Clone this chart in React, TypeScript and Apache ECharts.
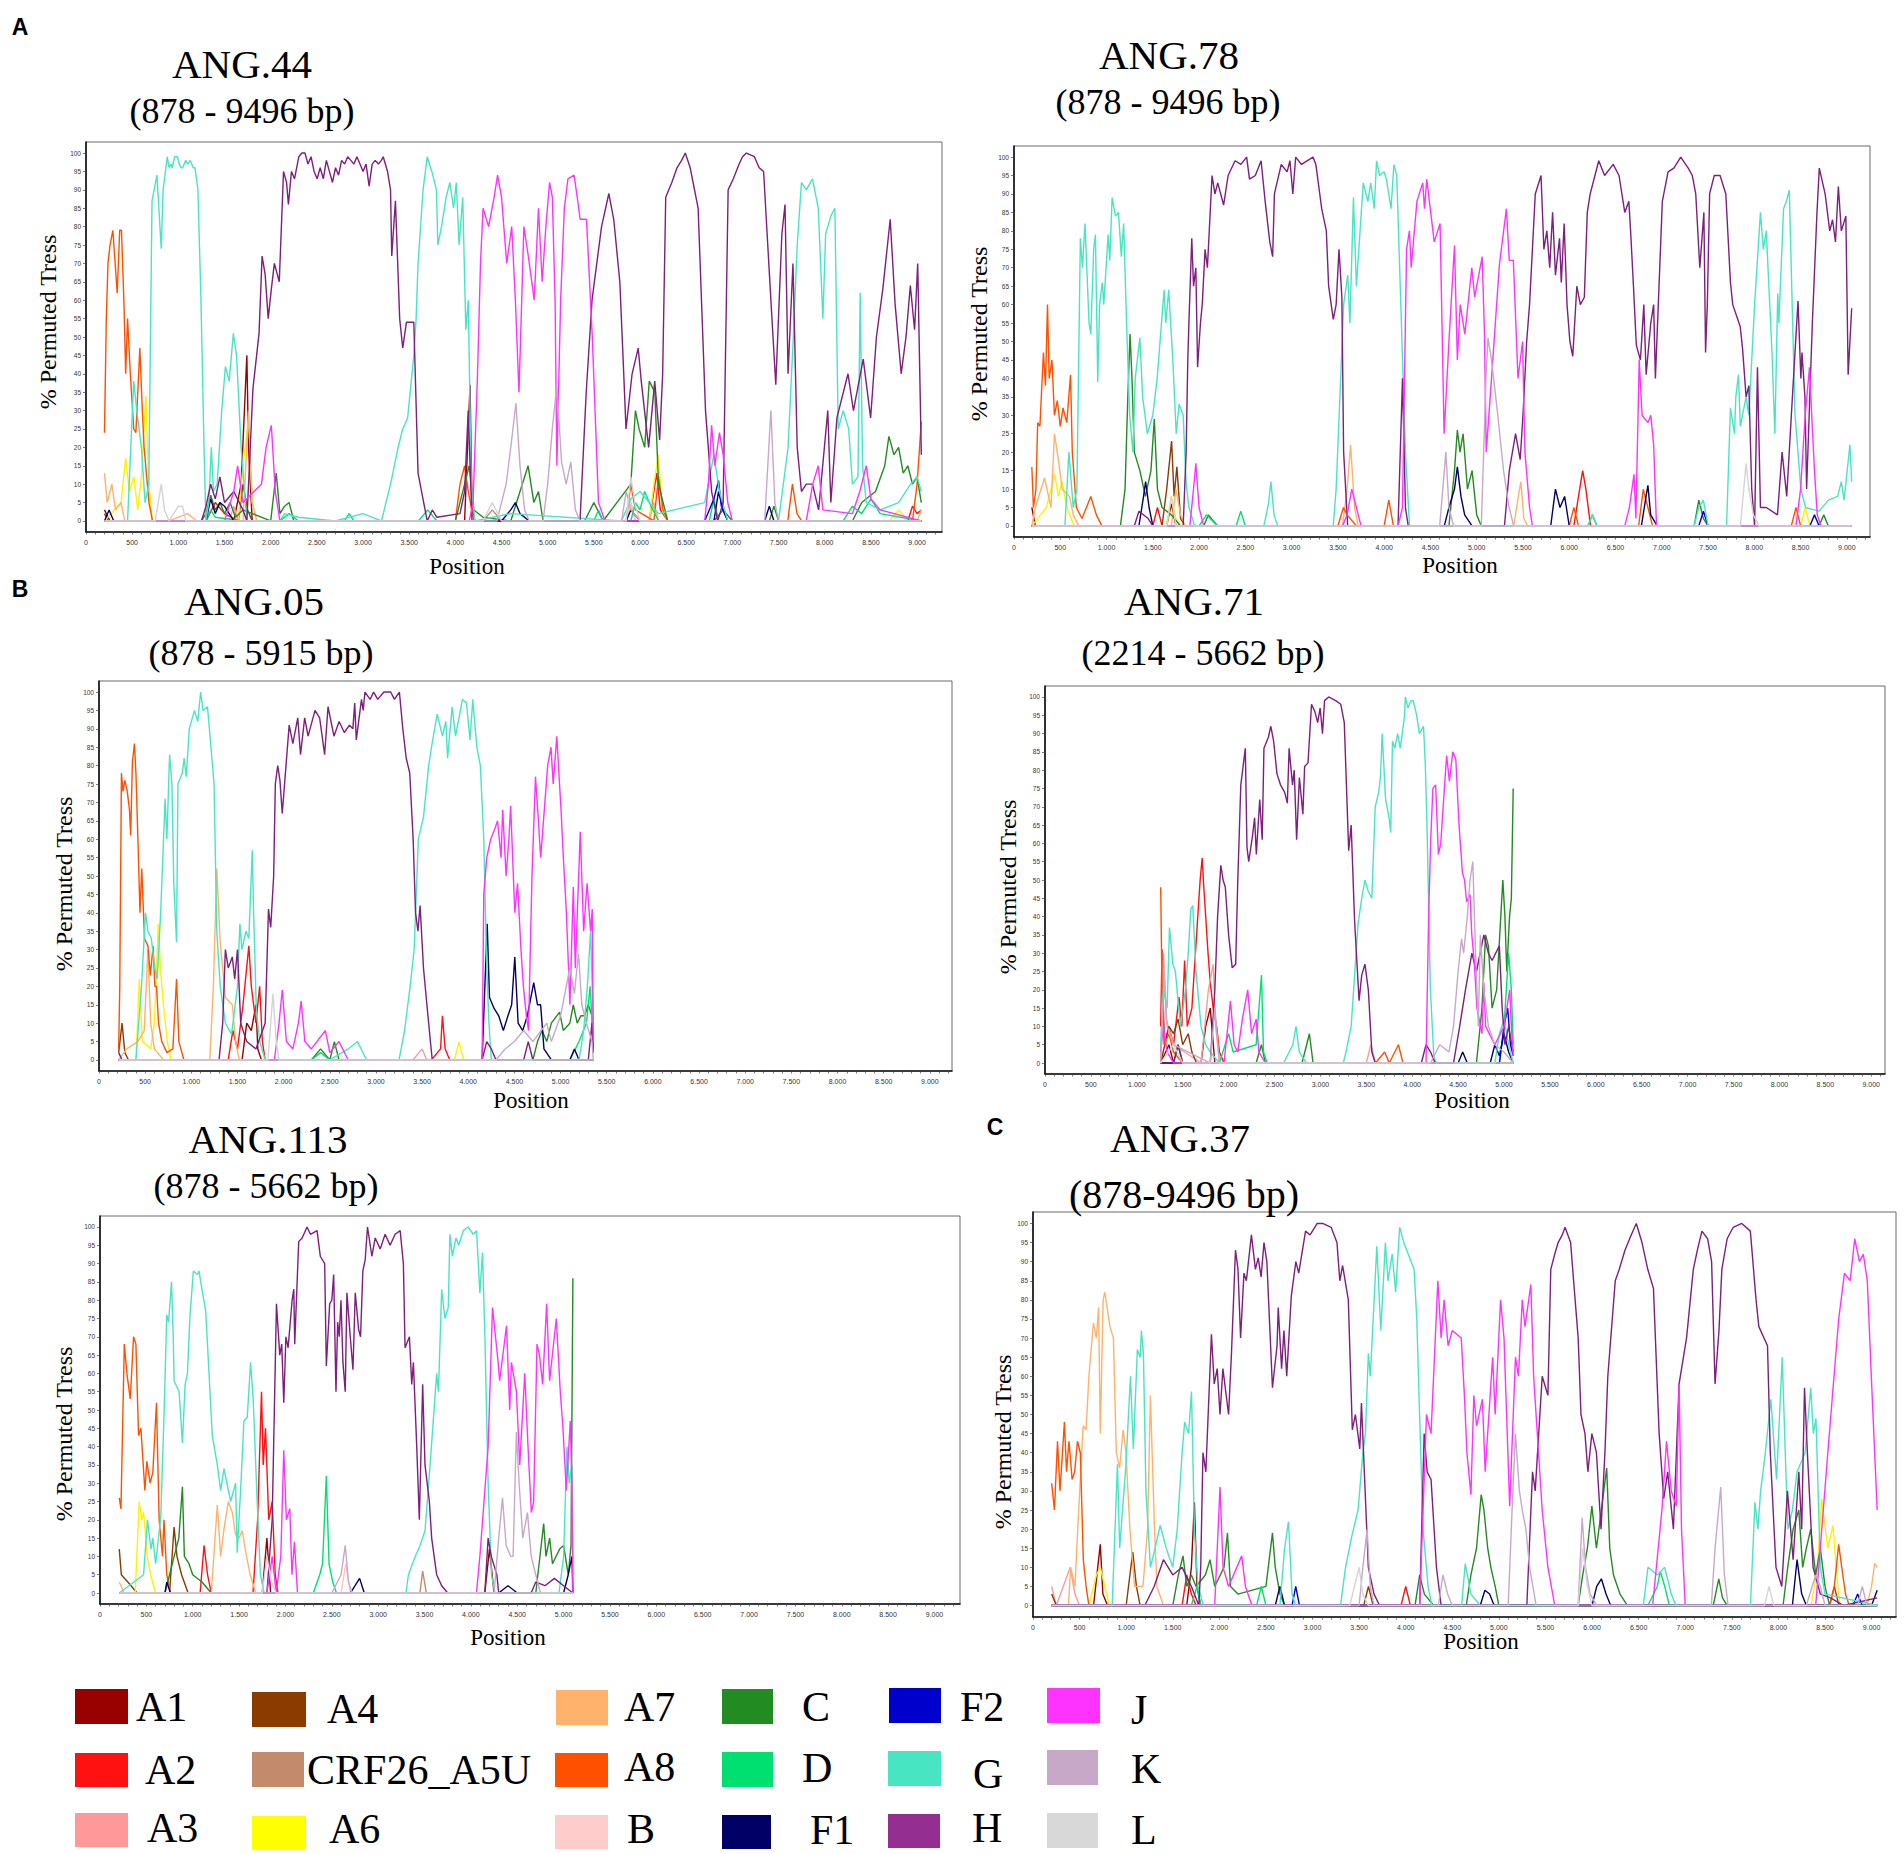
import React, { useEffect, useRef } from "react";
import * as echarts from "echarts";

// ---------- categories ----------
const SUBTYPES = ["A1","A2","A3","A4","CRF26_A5U","A6","A7","A8","B","C","D","F1","F2","G","H","J","K","L"];
const LINE_COLORS: Record<string, string> = {
  A1: "#990000", A2: "#FF1111", A3: "#FF9999", A4: "#8B3A00", CRF26_A5U: "#C48A6C", A6: "#FFF200",
  A7: "#FFB26B", A8: "#FF5000", B: "#FFC4C4", C: "#228B22", D: "#00E070", F1: "#000066", F2: "#0000CC",
  G: "#48E5C2", H: "#7E1E7E", J: "#FF33FF", K: "#C8A8C8", L: "#D4D4D4",
};
const SWATCH_COLORS: Record<string, string> = {
  ...LINE_COLORS, H: "#952E91", A6: "#FFFF00", B: "#FFCCCC", L: "#D8D8D8",
};
const X_TICKS = [0,500,1000,1500,2000,2500,3000,3500,4000,4500,5000,5500,6000,6500,7000,7500,8000,8500,9000];
const Y_TICKS = [0,5,10,15,20,25,30,35,40,45,50,55,60,65,70,75,80,85,90,95,100];
const PANEL_NAMES = ["ANG.44","ANG.78","ANG.05","ANG.71","ANG.113","ANG.37"];
const PANEL_RANGES = ["(878 - 9496 bp)","(878 - 9496 bp)","(878 - 5915 bp)","(2214 - 5662 bp)","(878 - 5662 bp)","(878-9496 bp)"];
const PANEL_LETTERS = ["A","B","C"];
const AXIS_Y_NAME = "% Permuted Tress";
const AXIS_X_NAME = "Position";

// ---------- ANG.44 ----------
const ANG44_A1 = [200,3, 260,0, 1600,0, 1680,10, 1742,45, 1760,20, 1800,0, 4100,0, 4159,37, 4180,5, 4210,0, 9046,0];
const ANG44_A2 = [200,0, 1300,0, 1400,5, 1500,2, 1650,0, 6100,0, 6180,13, 6220,3, 6300,0, 8900,0, 8950,4, 9000,2, 9046,3];
const ANG44_A3 = [200,0, 1550,0, 1600,4, 1650,0, 5850,0, 5900,5, 5950,0, 9046,0];
const ANG44_A4 = [200,2, 240,0, 1650,0, 1700,10, 1750,3, 1800,0, 9046,0];
const ANG44_CRF = [200,0, 4300,0, 4400,3, 4500,0, 9046,0];
const ANG44_A6 = [200,0, 380,5, 430,17, 470,8, 520,12, 560,3, 600,12, 649,34, 680,10, 720,0, 1650,0, 1700,15, 1762,28, 1800,5, 1850,0, 6100,0, 6150,10, 6199,18, 6240,3, 6300,0, 8700,0, 8800,3, 8900,0, 9046,0];
const ANG44_A7 = [200,13, 230,5, 280,10, 320,3, 380,5, 420,0, 900,0, 1100,2, 1200,0, 1700,0, 1740,20, 1760,30, 1800,5, 1850,0, 6100,0, 6150,5, 6200,0, 9000,0, 9046,3];
const ANG44_A8 = [200,24, 220,55, 238,70, 260,75, 291,79, 310,72, 338,62, 365,79, 384,79, 410,60, 430,40, 450,55, 480,40, 517,25, 540,24, 583,47, 610,30, 629,20, 682,5, 720,0, 4000,0, 4050,10, 4100,15, 4140,8, 4200,0, 5850,0, 5900,10, 5950,3, 6150,0, 6200,12, 6250,3, 6300,0, 7600,0, 7650,10, 7700,2, 7750,0, 8950,0, 9000,10, 9046,27];
const ANG44_B = [200,0, 5850,0, 5900,5, 5950,0, 9046,0];
const ANG44_C = [200,0, 1250,0, 1300,2, 1350,7, 1400,3, 1450,5, 1500,2, 1560,5, 1620,1, 1700,3, 2000,0, 2060,13, 2100,2, 2150,4, 2200,5, 2250,0, 4000,0, 4100,10, 4150,15, 4200,3, 4300,1, 4600,0, 4700,8, 4788,15, 4850,5, 4900,8, 4950,0, 5400,0, 5500,5, 5600,0, 5900,10, 5950,30, 5990,25, 6050,20, 6100,38, 6160,35, 6200,10, 6300,0, 6800,0, 6900,3, 7000,0, 7400,0, 7450,4, 7500,0, 8300,0, 8400,5, 8550,8, 8650,15, 8695,23, 8750,18, 8800,20, 8850,13, 8900,15, 8950,10, 9000,12, 9046,5];
const ANG44_D = [200,0, 1300,0, 1350,3, 1400,1, 1700,0, 2100,0, 2200,2, 2300,0, 2800,0, 2850,2, 2900,0, 3600,0, 3700,3, 3800,0, 5500,0, 5550,3, 5600,0, 5900,0, 5950,5, 6000,3, 6050,8, 6100,5, 6200,0, 6750,0, 6800,6, 6850,0, 8200,0, 8300,4, 8400,2, 8500,6, 8600,2, 9046,0];
const ANG44_F1 = [200,0, 250,3, 300,0, 1300,0, 1350,6, 1400,2, 1450,5, 1500,4, 1600,0, 4500,0, 4600,3, 4650,5, 4700,2, 4800,0, 5850,0, 5900,3, 6000,0, 6800,0, 6850,8, 6900,3, 6950,0, 7350,0, 7400,4, 7450,0, 9046,0];
const ANG44_F2 = [200,0, 6700,0, 6800,6, 6850,11, 6880,4, 6950,0, 9046,0];
const ANG44_G = [200,0, 450,0, 517,38, 550,30, 600,20, 640,5, 680,10, 715,87, 768,94, 815,74, 835,90, 880,99, 900,96, 920,97, 935,96, 960,99, 990,99, 1010,97, 1030,96, 1046,96, 1080,98, 1100,97, 1130,98, 1160,96, 1180,96, 1212,90, 1245,60, 1278,20, 1298,0, 1330,5, 1357,20, 1380,8, 1420,10, 1470,30, 1510,42, 1550,38, 1596,51, 1630,45, 1680,20, 1742,0, 2100,0, 2150,2, 2300,1, 2700,0, 3000,2, 3200,0, 3298,10, 3380,20, 3430,25, 3483,28, 3550,45, 3575,55, 3596,70, 3650,90, 3695,99, 3745,95, 3795,90, 3810,75, 3850,80, 3900,88, 3940,92, 3980,85, 4010,92, 4040,75, 4080,88, 4113,52, 4140,60, 4172,10, 4210,0, 4600,2, 5800,0, 5900,6, 6000,8, 6100,5, 6200,2, 6700,5, 6800,18, 6860,8, 6950,0, 7500,0, 7603,20, 7660,50, 7702,75, 7748,92, 7800,90, 7867,93, 7930,85, 7980,55, 8010,78, 8068,83, 8110,85, 8146,25, 8200,30, 8260,25, 8300,10, 8360,12, 8384,62, 8410,15, 8450,5, 8600,3, 8800,5, 8930,10, 9000,12, 9046,8];
const ANG44_H = [200,0, 1250,0, 1300,4, 1350,10, 1400,6, 1450,12, 1500,5, 1600,8, 1700,3, 1742,0, 1808,36, 1874,51, 1907,72, 1940,67, 1973,55, 2007,63, 2040,70, 2093,65, 2139,95, 2172,92, 2192,86, 2225,95, 2258,93, 2305,99, 2338,100, 2371,100, 2404,97, 2437,99, 2470,95, 2503,93, 2536,96, 2570,93, 2603,98, 2636,95, 2669,92, 2702,96, 2735,94, 2768,98, 2801,97, 2834,99, 2868,98, 2901,97, 2934,99, 2967,97, 3000,95, 3033,97, 3066,91, 3099,97, 3132,98, 3166,97, 3199,98, 3219,99, 3265,95, 3298,90, 3311,72, 3351,87, 3397,55, 3430,47, 3470,54, 3550,54, 3596,13, 3695,0, 3750,3, 3800,1, 4050,2, 4100,8, 4139,30, 4180,0, 5350,0, 5417,35, 5480,60, 5583,80, 5662,89, 5715,82, 5781,65, 5815,45, 5848,25, 5914,40, 5980,47, 6013,38, 6093,20, 6159,38, 6212,22, 6245,40, 6278,88, 6344,92, 6400,96, 6450,98, 6490,100, 6543,96, 6629,85, 6709,30, 6775,8, 6841,0, 6900,5, 6954,90, 7010,93, 7073,97, 7110,99, 7152,100, 7238,99, 7290,96, 7338,95, 7417,60, 7470,37, 7536,78, 7570,86, 7603,40, 7656,70, 7702,20, 7748,8, 7800,10, 7867,10, 7934,3, 8033,30, 8066,5, 8132,28, 8252,40, 8311,30, 8417,44, 8497,28, 8560,50, 8629,63, 8709,82, 8762,59, 8828,40, 8880,50, 8927,64, 8973,52, 9007,70, 9046,18];
const ANG44_J = [200,0, 1500,0, 1600,8, 1642,15, 1700,5, 1900,10, 1950,20, 2007,26, 2050,8, 2100,0, 4150,0, 4192,5, 4240,40, 4272,70, 4300,85, 4360,80, 4420,88, 4457,94, 4500,88, 4556,70, 4610,80, 4650,60, 4689,35, 4742,80, 4790,72, 4854,60, 4900,85, 4940,65, 4980,80, 5020,92, 5050,88, 5080,60, 5099,15, 5140,60, 5180,85, 5219,93, 5285,94, 5320,88, 5351,82, 5420,82, 5483,50, 5550,5, 5620,0, 6700,0, 6740,10, 6775,26, 6810,15, 6860,24, 6900,18, 6950,5, 7000,0, 7800,0, 7870,10, 7930,15, 7980,3, 8300,2, 8380,8, 8450,15, 8500,6, 8600,3, 9046,0];
const ANG44_K = [200,0, 4450,0, 4550,10, 4600,20, 4656,32, 4700,15, 4750,3, 4800,0, 4950,0, 5000,10, 5050,25, 5099,37, 5150,16, 5200,10, 5250,16, 5300,3, 5350,0, 5800,0, 5850,8, 5900,3, 6000,0, 7350,0, 7417,30, 7460,5, 7500,0, 9046,0];
const ANG44_L = [200,0, 750,0, 815,10, 850,3, 900,0, 1000,4, 1046,4, 1080,0, 4300,0, 4400,5, 4500,0, 5850,0, 5900,12, 5950,4, 6000,0, 9046,0];

// ---------- ANG.78 ----------
const ANG78_A1 = [193,5, 230,0, 1650,0, 1700,6, 1750,0, 9052,0];
const ANG78_A2 = [193,0, 1500,0, 1550,5, 1600,0, 6050,0, 6100,8, 6145,15, 6180,10, 6230,0, 9052,0];
const ANG78_A4 = [193,0, 1600,0, 1650,10, 1703,23, 1730,8, 1760,16, 1800,2, 1850,0, 9052,0];
const ANG78_A6 = [193,0, 350,5, 400,10, 440,14, 480,8, 520,12, 570,5, 650,0, 1650,0, 1700,8, 1750,2, 1800,0, 8500,0, 8550,5, 8600,0, 9052,0];
const ANG78_A7 = [193,0, 230,5, 330,13, 400,5, 437,25, 480,18, 520,10, 600,8, 640,3, 700,0, 1700,0, 1750,10, 1800,3, 1850,0, 3550,0, 3600,10, 3637,22, 3680,5, 3720,0, 5400,0, 5450,8, 5477,12, 5510,2, 5550,0, 9052,0];
const ANG78_A8 = [193,16, 210,5, 237,10, 256,28, 280,27, 318,47, 340,38, 362,60, 380,40, 410,45, 437,30, 468,34, 500,27, 530,32, 570,28, 611,41, 630,20, 674,5, 735,2, 830,8, 890,3, 950,0, 3500,0, 3560,5, 3600,3, 3700,0, 4000,0, 4050,7, 4100,0, 6000,0, 6050,5, 6100,0, 6750,0, 6800,10, 6850,5, 6900,0, 8400,0, 8450,5, 8500,0, 9052,0];
const ANG78_C = [193,0, 1150,0, 1200,10, 1230,35, 1254,52, 1275,40, 1300,20, 1360,15, 1420,8, 1480,15, 1516,29, 1550,10, 1600,5, 1700,3, 1800,0, 2050,0, 2100,3, 2200,0, 4700,0, 4760,15, 4791,26, 4820,20, 4853,25, 4900,10, 4950,15, 5000,3, 5050,0, 6200,0, 6250,3, 6300,0, 7350,0, 7400,7, 7450,2, 7500,0, 8700,0, 8750,3, 8800,0, 9052,0];
const ANG78_D = [193,0, 2000,0, 2080,3, 2200,0, 2400,0, 2450,4, 2500,0, 9052,0];
const ANG78_F1 = [193,0, 1350,0, 1400,8, 1422,12, 1460,5, 1500,0, 4650,0, 4700,5, 4760,10, 4791,16, 4830,8, 4870,3, 4950,0, 5800,0, 5851,10, 5900,5, 5950,8, 6000,0, 6780,0, 6830,8, 6850,11, 6880,3, 6950,0, 9052,0];
const ANG78_F2 = [193,0, 7400,0, 7450,4, 7500,0, 8600,0, 8650,3, 8700,0, 9052,0];
const ANG78_G = [193,0, 550,0, 593,20, 640,5, 680,10, 717,78, 740,70, 767,82, 811,55, 830,52, 861,75, 880,79, 905,39, 925,60, 954,66, 970,60, 1017,79, 1035,72, 1047,80, 1060,89, 1097,84, 1129,85, 1160,73, 1185,82, 1216,55, 1250,30, 1285,20, 1310,40, 1360,51, 1390,35, 1441,25, 1500,30, 1547,40, 1622,64, 1640,55, 1672,64, 1716,45, 1753,25, 1784,33, 1828,30, 1859,12, 1890,5, 1953,0, 2700,0, 2750,6, 2776,12, 2810,3, 2850,0, 3450,0, 3481,10, 3530,40, 3562,60, 3606,68, 3630,55, 3668,89, 3700,65, 3774,93, 3824,88, 3855,93, 3893,86, 3918,99, 3950,95, 3999,96, 4024,94, 4074,86, 4105,98, 4136,95, 4180,60, 4230,20, 4274,0, 6200,0, 6250,3, 6300,0, 7350,0, 7400,5, 7450,7, 7500,0, 7700,0, 7742,32, 7786,25, 7800,35, 7829,41, 7848,27, 7911,35, 7941,30, 8003,60, 8066,85, 8097,75, 8129,80, 8191,47, 8222,25, 8253,63, 8265,55, 8316,86, 8347,88, 8378,91, 8409,60, 8440,30, 8503,10, 8553,5, 8700,4, 8800,7, 8900,8, 8940,12, 8970,7, 9033,22, 9052,12];
const ANG78_H = [193,0, 1300,0, 1350,4, 1450,2, 1500,0, 1828,0, 1860,20, 1878,45, 1890,55, 1921,78, 1940,65, 1965,70, 1984,43, 2015,55, 2034,60, 2065,75, 2090,70, 2140,95, 2171,90, 2202,93, 2265,87, 2314,95, 2389,99, 2452,98, 2514,100, 2545,94, 2608,95, 2670,99, 2714,88, 2764,77, 2795,73, 2814,90, 2888,98, 2951,96, 2982,99, 3013,90, 3044,100, 3107,98, 3231,100, 3262,98, 3325,86, 3375,80, 3400,65, 3450,56, 3481,60, 3512,75, 3543,62, 3562,20, 3606,0, 4150,0, 4198,40, 4230,5, 4260,0, 5300,0, 5352,15, 5420,25, 5470,18, 5500,30, 5540,50, 5571,60, 5633,90, 5695,95, 5726,75, 5758,80, 5789,70, 5820,85, 5851,68, 5895,78, 5914,66, 5945,82, 5976,60, 6007,50, 6038,46, 6082,65, 6120,60, 6163,62, 6195,85, 6226,90, 6319,99, 6382,95, 6475,98, 6538,95, 6600,85, 6644,88, 6663,80, 6694,65, 6725,49, 6769,45, 6806,60, 6831,41, 6881,55, 6912,60, 6931,40, 7006,88, 7068,96, 7130,97, 7205,100, 7286,97, 7330,95, 7367,90, 7411,70, 7455,85, 7473,47, 7492,60, 7517,90, 7567,95, 7630,95, 7692,90, 7742,66, 7767,60, 7848,54, 7873,48, 7911,35, 7941,38, 7972,10, 8003,0, 8034,43, 8066,5, 8129,5, 8250,3, 8300,20, 8350,8, 8400,30, 8472,61, 8503,40, 8515,47, 8547,35, 8565,10, 8627,55, 8677,85, 8702,97, 8765,90, 8815,80, 8845,83, 8877,77, 8908,92, 8940,80, 8989,84, 9014,41, 9052,59];
const ANG78_J = [193,0, 1900,0, 1940,10, 1965,17, 2000,5, 2050,0, 3550,0, 3600,3, 3650,10, 3700,5, 3750,0, 4150,0, 4198,5, 4242,75, 4273,80, 4292,70, 4354,88, 4417,93, 4436,86, 4460,94, 4498,86, 4541,77, 4604,82, 4648,25, 4700,50, 4760,76, 4791,45, 4822,60, 4872,52, 4947,70, 4978,62, 5059,73, 5084,52, 5103,20, 5160,40, 5246,71, 5321,86, 5352,72, 5396,72, 5446,40, 5496,50, 5508,35, 5521,20, 5571,5, 5602,0, 6600,0, 6650,5, 6700,14, 6720,2, 6756,45, 6787,30, 6850,28, 6881,30, 6912,22, 6943,0, 8450,0, 8500,10, 8550,30, 8596,43, 8620,30, 8650,15, 8680,3, 8720,0, 9052,0];
const ANG78_K = [193,0, 4600,0, 4667,20, 4700,5, 4750,0, 5050,0, 5100,40, 5122,51, 5160,45, 5228,30, 5290,15, 5350,5, 5400,0, 9052,0];
const ANG78_L = [193,0, 1650,0, 1700,8, 1750,0, 7850,0, 7911,17, 7941,10, 7990,3, 8050,0, 9052,0];

// ---------- ANG.05 ----------
const ANG05_A1 = [213,0, 1550,0, 1600,10, 1650,8, 1700,15, 1720,3, 1760,0, 5354,0];
const ANG05_A2 = [213,0, 1400,0, 1450,8, 1500,3, 1560,15, 1623,31, 1650,20, 1700,10, 1740,20, 1770,5, 1800,0, 3600,0, 3700,3, 3720,12, 3750,3, 3800,0, 5354,0];
const ANG05_A3 = [213,0, 3400,0, 3500,3, 3550,0, 5354,0];
const ANG05_A4 = [213,2, 250,10, 280,2, 320,0, 5354,0];
const ANG05_A6 = [213,0, 400,0, 437,22, 470,5, 560,3, 600,10, 642,37, 668,24, 698,15, 740,5, 780,0, 3850,0, 3900,5, 3950,0, 5354,0];
const ANG05_A7 = [213,0, 300,3, 420,5, 490,8, 530,30, 560,10, 600,3, 700,0, 1200,0, 1239,20, 1276,52, 1313,32, 1369,17, 1444,15, 1480,5, 1520,0, 5354,0];
const ANG05_A8 = [213,3, 225,20, 243,78, 260,73, 280,76, 306,73, 330,68, 343,61, 362,81, 384,86, 400,78, 418,63, 444,40, 463,52, 493,33, 530,31, 556,23, 586,31, 605,20, 623,20, 645,10, 680,5, 736,2, 800,3, 840,22, 865,5, 920,0, 5354,0];
const ANG05_C = [213,0, 2300,0, 2400,3, 2500,0, 2550,5, 2600,0, 4700,0, 4750,5, 4800,8, 4850,5, 4900,10, 4989,13, 5030,8, 5100,10, 5138,15, 5180,10, 5220,12, 5260,12, 5300,15, 5340,12, 5354,3];
const ANG05_D = [213,0, 2300,0, 2400,2, 2500,0, 5100,0, 5200,5, 5280,10, 5320,20, 5354,5];
const ANG05_F1 = [213,0, 4150,0, 4205,37, 4230,17, 4280,14, 4330,12, 4380,8, 4430,12, 4470,15, 4504,28, 4540,10, 4590,8, 4640,12, 4709,21, 4750,15, 4784,15, 4820,3, 4900,0, 5100,0, 5150,3, 5200,0, 5354,0];
const ANG05_G = [213,0, 400,0, 460,20, 504,40, 530,35, 567,33, 604,25, 630,22, 668,40, 716,71, 735,60, 765,83, 790,75, 810,48, 840,32, 855,75, 903,78, 922,82, 945,77, 978,90, 1034,95, 1070,92, 1101,100, 1127,95, 1175,96, 1213,85, 1246,75, 1276,35, 1313,20, 1369,10, 1436,7, 1500,20, 1526,37, 1548,30, 1593,35, 1623,33, 1660,57, 1675,40, 1705,13, 1742,5, 1800,0, 2500,0, 2700,3, 2800,5, 2900,0, 3250,0, 3310,8, 3370,20, 3414,30, 3459,60, 3515,66, 3571,80, 3608,86, 3664,94, 3720,88, 3757,92, 3776,82, 3825,96, 3862,88, 3907,94, 3937,98, 3981,97, 4019,87, 4049,98, 4093,85, 4131,80, 4168,60, 4200,25, 4224,10, 4250,0, 5200,0, 5250,8, 5290,20, 5325,35, 5354,10];
const ANG05_H = [213,2, 250,0, 1300,0, 1340,10, 1369,30, 1400,25, 1444,28, 1470,22, 1500,30, 1535,10, 1600,5, 1700,3, 1800,10, 1836,41, 1860,36, 1892,50, 1910,75, 1936,80, 1960,76, 1985,67, 2010,75, 2060,91, 2100,86, 2153,93, 2183,83, 2228,93, 2265,88, 2340,95, 2390,93, 2444,83, 2481,96, 2545,88, 2601,92, 2657,89, 2713,91, 2750,90, 2770,97, 2787,87, 2843,98, 2862,95, 2881,100, 2937,98, 2975,100, 3019,98, 3086,100, 3160,100, 3200,98, 3254,100, 3291,90, 3328,82, 3366,78, 3403,60, 3429,40, 3455,35, 3478,42, 3515,25, 3552,15, 3590,5, 3610,0, 4150,0, 4200,5, 4250,3, 4300,0, 4600,0, 4650,5, 4700,0, 5300,0, 5340,10, 5354,2];
const ANG05_J = [213,0, 1900,0, 1950,10, 1985,19, 2030,5, 2100,3, 2160,10, 2190,16, 2230,5, 2300,3, 2452,8, 2500,2, 2600,5, 2700,0, 4150,0, 4168,45, 4200,55, 4243,60, 4290,63, 4317,65, 4355,55, 4373,68, 4410,50, 4440,60, 4459,69, 4504,40, 4534,48, 4571,30, 4597,20, 4630,12, 4653,8, 4690,50, 4728,77, 4760,65, 4784,55, 4830,70, 4860,80, 4896,85, 4920,75, 4959,88, 5007,67, 5030,55, 5063,40, 5101,15, 5138,47, 5160,25, 5213,62, 5250,35, 5287,48, 5325,35, 5343,41, 5354,5];
const ANG05_K = [213,0, 4300,0, 4400,3, 4500,5, 4600,8, 4700,5, 4850,10, 4900,5, 5000,12, 5100,25, 5150,18, 5194,29, 5230,15, 5280,10, 5340,5, 5354,0];
const ANG05_L = [213,0, 1830,0, 1884,18, 1920,5, 1950,0, 5354,0];

// ---------- ANG.71 ----------
const ANG71_A1 = [1260,0, 1350,5, 1400,0, 1700,0, 1750,10, 1800,15, 1850,0, 5100,0];
const ANG71_A2 = [1260,10, 1275,31, 1300,5, 1350,10, 1400,5, 1460,18, 1490,10, 1521,28, 1550,10, 1600,15, 1664,40, 1690,50, 1712,56, 1730,48, 1776,30, 1800,22, 1832,15, 1870,10, 1900,3, 1950,0, 5100,0];
const ANG71_A3 = [1260,0, 1290,30, 1320,12, 1400,5, 1700,0, 1780,20, 1832,27, 1860,10, 1900,0, 3500,0, 3550,5, 3600,0, 5100,0];
const ANG71_A4 = [1260,0, 1350,10, 1400,8, 1450,12, 1500,5, 1560,8, 1600,3, 1650,0, 5100,0];
const ANG71_A8 = [1260,48, 1275,20, 1300,5, 1350,8, 1400,3, 1500,0, 3600,0, 3700,3, 3750,0, 3850,5, 3900,0, 5100,0];
const ANG71_C = [1260,0, 1400,0, 1450,5, 1500,0, 2300,0, 2358,5, 2400,0, 2800,0, 2880,8, 2920,0, 4700,0, 4760,15, 4799,35, 4830,32, 4870,15, 4920,20, 4987,50, 5010,40, 5030,25, 5060,40, 5080,45, 5100,75];
const ANG71_D = [1260,0, 1900,0, 2000,8, 2050,3, 2300,5, 2358,24, 2380,3, 2420,0, 4950,0, 5000,10, 5050,30, 5080,20, 5100,5];
const ANG71_F1 = [1260,0, 4500,0, 4550,3, 4600,0, 4850,0, 4900,5, 4950,2, 5000,8, 5050,3, 5100,0];
const ANG71_F2 = [1260,0, 4950,0, 5000,10, 5040,15, 5070,5, 5100,2];
const ANG71_G = [1260,5, 1290,20, 1330,15, 1356,37, 1393,27, 1420,25, 1476,10, 1530,20, 1560,30, 1588,42, 1610,43, 1645,25, 1700,10, 1750,5, 1800,3, 1900,0, 2600,0, 2700,5, 2734,10, 2770,3, 2850,0, 3250,0, 3278,3, 3335,10, 3410,38, 3450,45, 3485,50, 3520,47, 3560,45, 3597,70, 3635,74, 3654,78, 3673,90, 3710,72, 3748,67, 3766,63, 3785,88, 3810,86, 3841,90, 3870,86, 3917,95, 3925,100, 3954,97, 3985,99, 4011,99, 4048,95, 4078,90, 4123,92, 4142,82, 4161,65, 4198,20, 4235,2, 4260,0, 4900,0, 4950,8, 5000,12, 5050,5, 5100,0];
const ANG71_H = [1260,0, 1400,0, 1450,5, 1500,0, 1800,0, 1850,20, 1880,40, 1915,54, 1940,50, 1964,48, 2000,35, 2039,26, 2077,27, 2100,50, 2133,76, 2182,86, 2200,59, 2219,55, 2260,62, 2283,67, 2302,57, 2339,72, 2366,61, 2385,86, 2433,89, 2460,92, 2490,88, 2527,79, 2565,76, 2610,74, 2640,71, 2659,86, 2696,76, 2715,80, 2741,61, 2771,78, 2809,68, 2828,81, 2865,82, 2903,98, 2940,96, 2970,93, 2997,97, 3023,90, 3045,99, 3090,100, 3166,99, 3222,98, 3260,93, 3308,58, 3335,65, 3372,39, 3421,17, 3450,24, 3485,27, 3522,20, 3560,3, 3597,0, 4100,0, 4150,5, 4200,3, 4250,0, 4450,0, 4517,10, 4580,20, 4650,30, 4700,25, 4780,35, 4830,30, 4870,28, 4949,32, 4980,15, 5010,5, 5050,10, 5100,3];
const ANG71_J = [1260,3, 1290,10, 1330,3, 1400,0, 1950,0, 2020,17, 2060,5, 2100,3, 2150,12, 2208,20, 2250,8, 2300,12, 2330,3, 2400,0, 4150,0, 4179,40, 4200,60, 4225,75, 4255,76, 4285,57, 4311,60, 4337,70, 4375,84, 4405,77, 4442,85, 4475,83, 4510,65, 4547,52, 4570,50, 4593,44, 4630,46, 4649,35, 4675,28, 4705,15, 4760,8, 4780,22, 4800,10, 4900,5, 5000,10, 5062,20, 5080,10, 5100,2];
const ANG71_K = [1260,0, 1300,25, 1330,10, 1400,5, 1800,0, 1850,15, 1900,0, 4200,0, 4300,5, 4400,3, 4450,10, 4500,25, 4537,34, 4560,30, 4600,40, 4630,50, 4660,55, 4690,30, 4720,10, 4742,35, 4780,20, 4830,10, 4900,5, 5000,3, 5100,0];
const ANG71_L = [1260,0, 1400,5, 1500,0, 5100,0];

// ---------- ANG.113 ----------
const ANG113_A1 = [208,0, 1750,0, 1800,15, 1840,0, 4150,0, 4200,12, 4250,0, 5100,0];
const ANG113_A2 = [208,0, 1080,0, 1122,13, 1160,5, 1200,0, 1650,0, 1700,20, 1742,55, 1760,35, 1785,45, 1820,20, 1857,25, 1890,5, 1920,0, 5100,0];
const ANG113_A4 = [208,12, 230,5, 300,3, 400,0, 750,0, 799,18, 830,10, 880,5, 950,0, 5100,0];
const ANG113_CRF = [208,0, 3450,0, 3480,6, 3520,0, 5100,0];
const ANG113_A6 = [208,0, 380,0, 423,25, 450,20, 470,22, 510,10, 545,5, 600,0, 5100,0];
const ANG113_A7 = [208,3, 260,0, 1200,0, 1265,24, 1301,10, 1340,18, 1384,25, 1427,22, 1462,16, 1500,15, 1534,17, 1580,10, 1620,5, 1680,0, 5100,0];
const ANG113_A8 = [208,26, 226,23, 262,68, 290,60, 326,53, 362,70, 387,68, 416,43, 441,45, 484,28, 505,36, 541,30, 570,33, 609,52, 638,20, 674,10, 690,20, 720,5, 760,0, 5100,0];
const ANG113_B = [208,0, 2600,0, 2650,8, 2700,0, 5100,0];
const ANG113_C = [208,0, 700,0, 750,5, 800,10, 850,15, 889,29, 910,10, 960,8, 1000,5, 1100,3, 1200,0, 4700,0, 4785,19, 4810,10, 4849,15, 4880,8, 4957,12, 5000,13, 5050,5, 5080,13, 5100,86];
const ANG113_D = [208,0, 2300,0, 2370,5, 2400,8, 2441,32, 2470,8, 2510,3, 2550,0, 5100,0];
const ANG113_F1 = [208,0, 700,0, 720,3, 760,0, 2700,0, 2800,4, 2850,0, 4300,0, 4400,2, 4500,0, 5000,0, 5050,5, 5090,10, 5100,0];
const ANG113_G = [208,0, 470,5, 512,20, 550,12, 570,15, 600,8, 656,21, 692,50, 720,76, 740,74, 771,85, 790,70, 799,58, 853,55, 889,41, 918,57, 943,60, 971,76, 1007,88, 1050,87, 1068,88, 1086,85, 1140,77, 1176,60, 1211,43, 1265,35, 1301,28, 1337,34, 1409,25, 1462,30, 1480,11, 1520,30, 1552,47, 1588,48, 1624,63, 1652,53, 1695,25, 1730,5, 1770,0, 3300,0, 3326,5, 3400,10, 3452,13, 3505,17, 3560,35, 3631,60, 3650,55, 3685,83, 3720,75, 3756,78, 3774,98, 3800,92, 3839,97, 3870,95, 3918,99, 3971,100, 4025,98, 4061,99, 4097,82, 4125,93, 4151,70, 4186,30, 4222,5, 4260,0, 4950,0, 5000,10, 5036,40, 5060,30, 5090,35, 5100,5];
const ANG113_H = [208,0, 1800,0, 1857,20, 1903,79, 1939,65, 1960,68, 1982,52, 2005,70, 2029,67, 2072,80, 2090,83, 2100,68, 2143,96, 2180,97, 2233,100, 2270,98, 2341,99, 2376,92, 2423,90, 2441,62, 2477,79, 2500,80, 2520,87, 2545,55, 2563,74, 2580,70, 2599,80, 2620,63, 2645,55, 2663,82, 2699,70, 2728,61, 2753,82, 2789,72, 2810,70, 2835,88, 2860,91, 2885,100, 2932,92, 2968,97, 3022,94, 3075,98, 3129,95, 3183,98, 3237,99, 3272,90, 3290,67, 3337,70, 3362,57, 3380,63, 3416,40, 3444,20, 3480,57, 3505,35, 3552,25, 3577,15, 3631,5, 3685,2, 3750,0, 4150,0, 4186,15, 4220,10, 4280,5, 4300,0, 4650,0, 4700,3, 4800,2, 4900,4, 5000,2, 5100,0];
const ANG113_J = [208,0, 1800,0, 1857,10, 1900,0, 1950,10, 1982,39, 2010,20, 2047,23, 2070,5, 2097,14, 2130,0, 4060,0, 4097,10, 4186,40, 4233,78, 4294,63, 4310,58, 4384,73, 4419,50, 4437,63, 4491,55, 4527,35, 4581,60, 4616,40, 4652,22, 4677,25, 4713,68, 4740,65, 4774,57, 4817,79, 4849,58, 4921,75, 4964,55, 4993,45, 5029,28, 5072,47, 5090,30, 5100,0];
const ANG113_K = [208,0, 2500,0, 2600,5, 2645,13, 2680,3, 2720,0, 4250,0, 4300,15, 4341,26, 4380,13, 4430,10, 4455,10, 4491,44, 4520,30, 4560,15, 4610,22, 4650,10, 4700,5, 4750,0, 5100,0];
const ANG113_L = [208,0, 1750,0, 1800,10, 1850,3, 1900,0, 5100,0];

// ---------- ANG.37 ----------
const ANG37_A1 = [200,0, 650,0, 722,16, 750,3, 800,0, 1650,0, 1700,10, 1732,27, 1760,5, 1800,0, 9060,0];
const ANG37_A2 = [200,0, 1600,0, 1650,8, 1700,3, 1750,0, 3950,0, 4000,5, 4050,0, 8550,0, 8600,5, 8650,0, 9060,0];
const ANG37_A3 = [200,5, 250,0, 400,10, 450,3, 500,0, 9060,0];
const ANG37_A4 = [200,3, 250,0, 1000,0, 1040,8, 1071,14, 1110,5, 1150,0, 3550,0, 3600,5, 3650,0, 9060,0];
const ANG37_A6 = [200,0, 600,0, 680,8, 722,10, 770,5, 820,0, 8350,0, 8420,10, 8464,28, 8530,15, 8586,21, 8620,10, 8660,0, 9060,0];
const ANG37_A7 = [200,0, 380,0, 404,10, 450,5, 480,20, 538,47, 570,46, 600,60, 649,74, 680,70, 704,78, 722,45, 753,80, 771,82, 826,73, 863,70, 894,40, 930,36, 967,46, 998,40, 1040,20, 1090,5, 1180,5, 1230,20, 1260,55, 1304,20, 1330,5, 1400,0, 8950,0, 9000,5, 9033,11, 9060,10];
const ANG37_A8 = [200,32, 230,25, 263,43, 290,30, 337,48, 360,35, 386,43, 420,33, 447,35, 477,43, 508,40, 540,12, 570,5, 600,0, 8550,0, 8600,5, 8647,16, 8680,10, 8720,3, 8760,0, 9060,0];
const ANG37_C = [200,0, 1500,0, 1560,8, 1610,13, 1650,5, 1700,8, 1750,5, 1850,8, 1900,12, 1950,5, 2050,10, 2087,19, 2120,5, 2200,3, 2500,5, 2570,19, 2600,10, 2650,3, 2700,0, 4100,0, 4150,8, 4200,3, 4300,0, 4650,0, 4700,8, 4760,15, 4810,29, 4840,25, 4880,15, 4914,10, 4960,5, 5000,0, 5850,0, 5900,8, 5950,15, 5998,26, 6047,15, 6100,25, 6157,36, 6190,15, 6230,8, 6300,3, 6380,0, 7300,0, 7360,7, 7400,2, 7450,0, 8050,0, 8100,10, 8158,20, 8219,25, 8260,10, 8300,15, 8347,20, 8400,8, 8450,15, 8500,5, 8550,0, 9060,0];
const ANG37_D = [200,0, 1700,0, 1760,5, 1800,0, 2400,0, 2450,5, 2500,0, 6600,0, 6700,5, 6732,9, 6780,5, 6830,0, 9060,0];
const ANG37_F1 = [200,0, 2600,0, 2650,5, 2700,0, 4800,0, 4850,4, 4900,3, 4950,0, 6000,0, 6050,5, 6100,7, 6150,3, 6200,0, 8150,0, 8200,12, 8250,3, 8300,0, 9000,0, 9060,4];
const ANG37_F2 = [200,0, 2780,0, 2820,5, 2860,0, 8800,0, 8850,3, 8900,0, 9060,0];
const ANG37_G = [200,0, 850,0, 906,37, 930,15, 998,37, 1046,60, 1077,41, 1120,67, 1150,65, 1163,72, 1185,66, 1212,30, 1260,10, 1310,15, 1365,21, 1430,15, 1500,10, 1548,20, 1600,40, 1628,48, 1670,45, 1701,56, 1732,20, 1770,5, 1830,0, 2650,0, 2700,15, 2742,22, 2780,3, 2820,0, 3300,0, 3354,10, 3420,18, 3489,25, 3540,40, 3568,45, 3599,66, 3620,60, 3690,94, 3733,72, 3782,95, 3810,85, 3855,92, 3892,82, 3935,99, 3980,95, 4058,90, 4090,88, 4119,75, 4149,50, 4186,20, 4240,5, 4280,0, 4600,0, 4639,11, 4700,3, 4800,0, 6550,0, 6600,10, 6700,8, 6780,10, 6850,3, 6900,0, 7700,0, 7748,27, 7780,20, 7809,30, 7860,40, 7919,54, 7980,33, 8041,65, 8080,35, 8103,20, 8150,25, 8200,35, 8286,40, 8347,57, 8375,45, 8403,49, 8450,10, 8500,3, 9060,0];
const ANG37_H = [200,0, 1200,0, 1300,5, 1400,12, 1500,8, 1600,10, 1700,5, 1780,0, 1800,10, 1824,40, 1855,35, 1915,71, 1945,58, 1977,62, 2007,50, 2038,62, 2099,50, 2130,66, 2173,93, 2200,88, 2228,70, 2264,87, 2290,85, 2344,97, 2387,88, 2417,91, 2448,86, 2479,95, 2510,90, 2570,57, 2619,68, 2632,78, 2668,62, 2693,72, 2723,60, 2772,81, 2821,90, 2852,87, 2925,98, 2974,97, 3050,100, 3109,100, 3200,99, 3262,95, 3293,85, 3323,89, 3384,80, 3427,46, 3460,50, 3507,41, 3525,53, 3599,10, 3660,3, 3720,0, 4150,0, 4198,45, 4230,35, 4272,33, 4330,10, 4380,0, 5300,0, 5361,35, 5390,30, 5465,60, 5526,55, 5557,88, 5600,92, 5636,95, 5680,97, 5710,99, 5770,95, 5802,85, 5851,70, 5881,50, 5924,45, 5955,35, 5998,45, 6047,40, 6096,20, 6138,40, 6169,60, 6249,85, 6292,88, 6353,93, 6420,97, 6475,100, 6536,95, 6598,88, 6659,83, 6720,45, 6769,28, 6812,35, 6873,20, 6934,58, 7014,70, 7087,88, 7130,93, 7179,98, 7240,96, 7283,90, 7320,58, 7362,72, 7393,88, 7450,96, 7515,99, 7607,100, 7699,98, 7760,80, 7790,73, 7883,68, 7913,40, 7974,10, 8036,5, 8097,30, 8158,12, 8219,35, 8250,20, 8280,57, 8311,40, 8372,10, 8450,3, 8560,2, 8700,0, 9060,2];
const ANG37_J = [200,0, 1950,0, 2007,31, 2040,10, 2099,5, 2240,13, 2280,5, 2350,0, 4150,0, 4223,50, 4272,45, 4345,85, 4380,70, 4412,80, 4455,68, 4500,72, 4596,70, 4630,55, 4657,40, 4700,29, 4731,55, 4761,47, 4823,54, 4853,35, 4933,65, 4960,50, 5018,80, 5055,70, 5116,26, 5178,65, 5210,60, 5251,80, 5280,73, 5343,84, 5373,60, 5465,25, 5526,10, 5600,0, 6650,0, 6750,25, 6799,43, 6850,30, 6904,26, 6934,58, 6960,20, 7000,0, 8400,0, 8433,10, 8530,40, 8647,75, 8709,87, 8770,85, 8819,96, 8870,90, 8911,92, 8954,85, 8997,60, 9060,25];
const ANG37_K = [200,0, 3500,0, 3540,10, 3586,20, 3620,5, 3660,0, 4350,0, 4400,8, 4450,3, 4500,0, 5100,0, 5150,30, 5178,45, 5220,30, 5251,25, 5290,20, 5330,10, 5400,0, 5850,0, 5894,23, 5930,10, 5980,3, 6050,0, 7280,0, 7320,15, 7381,31, 7420,8, 7460,0, 8300,0, 8400,8, 8450,5, 8500,0, 8850,0, 8900,5, 8950,0, 9060,0];
const ANG37_L = [200,0, 3400,0, 3450,5, 3500,10, 3540,3, 3600,0, 5850,0, 5900,15, 5950,5, 6000,0, 7850,0, 7900,5, 7950,0, 9060,0];

const PANEL_DATA: Record<string, number[]>[] = [
  { A1: ANG44_A1, A2: ANG44_A2, A3: ANG44_A3, A4: ANG44_A4, CRF26_A5U: ANG44_CRF, A6: ANG44_A6, A7: ANG44_A7, A8: ANG44_A8, B: ANG44_B, C: ANG44_C, D: ANG44_D, F1: ANG44_F1, F2: ANG44_F2, G: ANG44_G, H: ANG44_H, J: ANG44_J, K: ANG44_K, L: ANG44_L },
  { A1: ANG78_A1, A2: ANG78_A2, A4: ANG78_A4, A6: ANG78_A6, A7: ANG78_A7, A8: ANG78_A8, C: ANG78_C, D: ANG78_D, F1: ANG78_F1, F2: ANG78_F2, G: ANG78_G, H: ANG78_H, J: ANG78_J, K: ANG78_K, L: ANG78_L },
  { A1: ANG05_A1, A2: ANG05_A2, A3: ANG05_A3, A4: ANG05_A4, A6: ANG05_A6, A7: ANG05_A7, A8: ANG05_A8, C: ANG05_C, D: ANG05_D, F1: ANG05_F1, G: ANG05_G, H: ANG05_H, J: ANG05_J, K: ANG05_K, L: ANG05_L },
  { A1: ANG71_A1, A2: ANG71_A2, A3: ANG71_A3, A4: ANG71_A4, A8: ANG71_A8, C: ANG71_C, D: ANG71_D, F1: ANG71_F1, F2: ANG71_F2, G: ANG71_G, H: ANG71_H, J: ANG71_J, K: ANG71_K, L: ANG71_L },
  { A1: ANG113_A1, A2: ANG113_A2, A4: ANG113_A4, CRF26_A5U: ANG113_CRF, A6: ANG113_A6, A7: ANG113_A7, A8: ANG113_A8, B: ANG113_B, C: ANG113_C, D: ANG113_D, F1: ANG113_F1, G: ANG113_G, H: ANG113_H, J: ANG113_J, K: ANG113_K, L: ANG113_L },
  { A1: ANG37_A1, A2: ANG37_A2, A3: ANG37_A3, A4: ANG37_A4, A6: ANG37_A6, A7: ANG37_A7, A8: ANG37_A8, C: ANG37_C, D: ANG37_D, F1: ANG37_F1, F2: ANG37_F2, G: ANG37_G, H: ANG37_H, J: ANG37_J, K: ANG37_K, L: ANG37_L },
];

// ---------- layout (pixels) ----------
const LAYOUT = [
  { left: 86, top: 142, width: 856, height: 390, xMax: 9270, title: [242, 64], sub: [242, 111], subSize: 36, yName: [48, 322], pos: [467, 566] },
  { left: 1014, top: 146, width: 856, height: 391, xMax: 9250, title: [1169, 55], sub: [1168, 102], subSize: 36, yName: [979, 334], pos: [1460, 565] },
  { left: 99, top: 681, width: 853, height: 390, xMax: 9240, title: [254, 601], sub: [261, 653], subSize: 36, yName: [64, 884], pos: [531, 1100] },
  { left: 1045, top: 686, width: 840, height: 388, xMax: 9150, title: [1194, 601], sub: [1203, 653], subSize: 36, yName: [1008, 887], pos: [1472, 1100] },
  { left: 100, top: 1216, width: 860, height: 388, xMax: 9275, title: [268, 1139], sub: [266, 1186], subSize: 36, yName: [64, 1434], pos: [508, 1637] },
  { left: 1033, top: 1212, width: 863, height: 405, xMax: 9262, title: [1180, 1138], sub: [1184, 1194], subSize: 40, yName: [1003, 1442], pos: [1481, 1641] },
];
const LETTER_POS = [[20, 27], [20, 589], [995, 1127]];
const LEGEND_POS: Record<string, { sw: number[]; tx: number[] }> = {
  A1: { sw: [75, 1689, 53, 35], tx: [136, 1707] },
  A2: { sw: [75, 1753, 53, 34], tx: [145, 1770] },
  A3: { sw: [75, 1813, 53, 34], tx: [147, 1828] },
  A4: { sw: [252, 1692, 54, 35], tx: [327, 1709] },
  CRF26_A5U: { sw: [252, 1752, 52, 35], tx: [307, 1770] },
  A6: { sw: [252, 1816, 54, 34], tx: [329, 1829] },
  A7: { sw: [556, 1690, 52, 35], tx: [624, 1707] },
  A8: { sw: [555, 1753, 53, 34], tx: [624, 1767] },
  B: { sw: [555, 1815, 53, 34], tx: [627, 1829] },
  C: { sw: [722, 1689, 51, 35], tx: [802, 1707] },
  D: { sw: [722, 1752, 51, 35], tx: [802, 1768] },
  F1: { sw: [722, 1815, 49, 34], tx: [810, 1830] },
  F2: { sw: [889, 1688, 52, 35], tx: [960, 1707] },
  G: { sw: [888, 1751, 53, 35], tx: [973, 1774] },
  H: { sw: [888, 1814, 52, 34], tx: [972, 1828] },
  J: { sw: [1047, 1688, 53, 35], tx: [1131, 1710] },
  K: { sw: [1047, 1750, 51, 35], tx: [1131, 1769] },
  L: { sw: [1047, 1813, 51, 35], tx: [1131, 1830] },
};

const SERIF = "'Liberation Serif', 'DejaVu Serif', serif";

function pairs(a: number[]): number[][] {
  const out: number[][] = [];
  for (let i = 0; i + 1 < a.length; i += 2) out.push([a[i], a[i + 1]]);
  return out;
}
function fmtX(v: number): string {
  if (v >= 1000) return `${Math.floor(v / 1000)}.${String(v % 1000).padStart(3, "0")}`;
  return String(v);
}

function buildOption() {
  const grid: any[] = [];
  const xAxis: any[] = [];
  const yAxis: any[] = [];
  const series: any[] = [];
  const graphic: any[] = [];

  LAYOUT.forEach((L, i) => {
    grid.push({ left: L.left, top: L.top, width: L.width, height: L.height, show: true, borderColor: "#6b6b6b", borderWidth: 1, backgroundColor: "#fff", containLabel: false });
    const minor: number[] = [];
    X_TICKS.forEach((t) => { for (let k = 0; k < 5; k++) { const v = t + k * 100; if (v <= L.xMax) minor.push(v); } });
    xAxis.push({
      type: "value", gridIndex: i, min: 0, max: L.xMax,
      axisLine: { show: true, onZero: false, lineStyle: { color: "#111", width: 1.6 } },
      axisTick: { show: true, customValues: minor, length: 2.5, lineStyle: { color: "#444", width: 0.7 } },
      axisLabel: { customValues: X_TICKS, formatter: fmtX, fontSize: 7, color: "#333", margin: 7, fontFamily: "'Liberation Sans', Arial, sans-serif" },
      splitLine: { show: false },
    });
    yAxis.push({
      type: "value", gridIndex: i, min: -3, max: 103,
      axisLine: { show: true, onZero: false, lineStyle: { color: "#111", width: 1.6 } },
      axisTick: { show: true, customValues: Y_TICKS, length: 3, lineStyle: { color: "#444", width: 0.7 } },
      axisLabel: { customValues: Y_TICKS, fontSize: 6.5, color: "#333", margin: 5, fontFamily: "'Liberation Sans', Arial, sans-serif" },
      splitLine: { show: false },
    });
    const data = PANEL_DATA[i];
    SUBTYPES.forEach((s) => {
      const arr = data[s];
      if (!arr) return;
      series.push({
        name: `${PANEL_NAMES[i]} ${s}`, type: "line", xAxisIndex: i, yAxisIndex: i,
        data: pairs(arr), showSymbol: false, symbol: "none", silent: true,
        lineStyle: { color: LINE_COLORS[s], width: 1.4 }, itemStyle: { color: LINE_COLORS[s] },
      });
    });
    graphic.push({ type: "text", x: L.title[0], y: L.title[1], style: { text: PANEL_NAMES[i], fontSize: 41, fontFamily: SERIF, fill: "#000", align: "center", verticalAlign: "middle" } });
    graphic.push({ type: "text", x: L.sub[0], y: L.sub[1], style: { text: PANEL_RANGES[i], fontSize: L.subSize, fontFamily: SERIF, fill: "#000", align: "center", verticalAlign: "middle" } });
    graphic.push({ type: "text", x: L.yName[0], y: L.yName[1], rotation: Math.PI / 2, style: { text: AXIS_Y_NAME, fontSize: 24, fontFamily: SERIF, fill: "#000", align: "center", verticalAlign: "middle" } });
    graphic.push({ type: "text", x: L.pos[0], y: L.pos[1], style: { text: AXIS_X_NAME, fontSize: 23, fontFamily: SERIF, fill: "#000", align: "center", verticalAlign: "middle" } });
  });

  PANEL_LETTERS.forEach((t, i) => {
    graphic.push({ type: "text", x: LETTER_POS[i][0], y: LETTER_POS[i][1], style: { text: t, fontSize: 23, fontWeight: "bold", fontFamily: "'Liberation Sans Narrow', 'Liberation Sans', Arial, sans-serif", fill: "#000", align: "center", verticalAlign: "middle" } });
  });

  SUBTYPES.forEach((s) => {
    const p = LEGEND_POS[s];
    graphic.push({ type: "rect", shape: { x: p.sw[0], y: p.sw[1], width: p.sw[2], height: p.sw[3] }, style: { fill: SWATCH_COLORS[s] } });
    graphic.push({ type: "text", x: p.tx[0], y: p.tx[1], style: { text: s, fontSize: 42, fontFamily: SERIF, fill: "#000", align: "left", verticalAlign: "middle" } });
  });

  return { animation: false, backgroundColor: "#fff", grid, xAxis, yAxis, series, graphic };
}

export default function App() {
  const ref = useRef<HTMLDivElement>(null);
  useEffect(() => {
    if (!ref.current) return;
    const chart = echarts.init(ref.current, null, { renderer: "svg" });
    chart.setOption(buildOption() as any);
    return () => chart.dispose();
  }, []);
  return <div ref={ref} style={{ position: "absolute", left: 0, top: 0, width: 1904, height: 1854, background: "#fff" }} />;
}
